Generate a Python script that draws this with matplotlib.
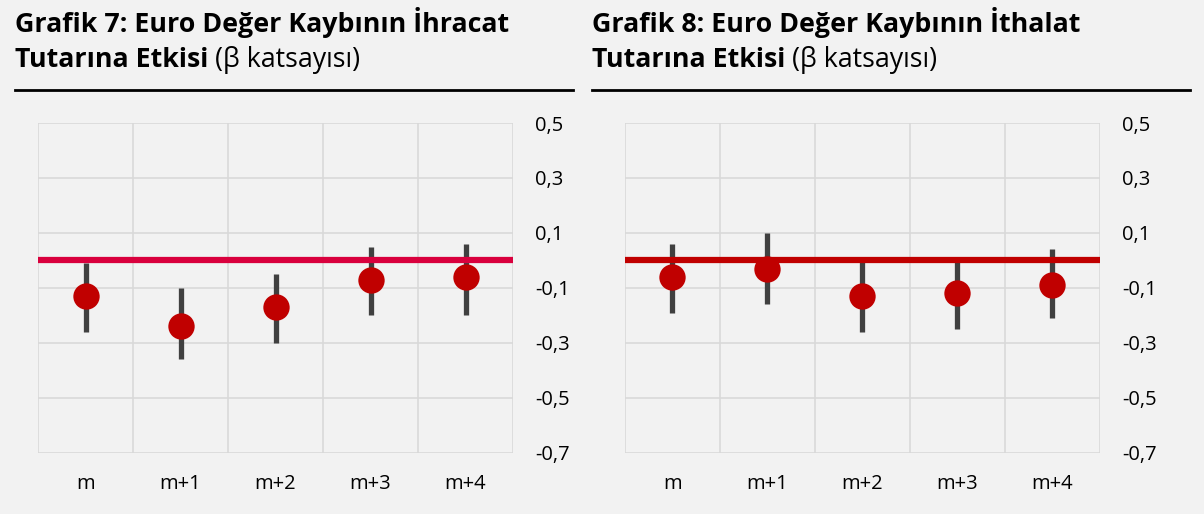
import matplotlib.pyplot as plt
from matplotlib.ticker import FuncFormatter

plt.rcParams['font.family'] = ['Open Sans', 'DejaVu Sans']

# Data
categories = ['m', 'm+1', 'm+2', 'm+3', 'm+4']

exp_beta = [-0.13, -0.24, -0.17, -0.07, -0.06]
exp_low = [-0.26, -0.36, -0.30, -0.20, -0.20]
exp_high = [-0.01, -0.10, -0.05, 0.05, 0.06]

imp_beta = [-0.06, -0.03, -0.13, -0.12, -0.09]
imp_low = [-0.19, -0.16, -0.26, -0.25, -0.21]
imp_high = [0.06, 0.10, 0.00, 0.00, 0.04]

yticks = [0.5, 0.3, 0.1, -0.1, -0.3, -0.5, -0.7]

titles = [('Grafik 7: Euro Değer Kaybının İhracat', 'Tutarına Etkisi'),
          ('Grafik 8: Euro Değer Kaybının İthalat', 'Tutarına Etkisi')]
subtitle = ' (β katsayısı)'

bg = '#f2f2f2'
fig = plt.figure(figsize=(12.04, 5.14), dpi=100, facecolor=bg)


def panel(left, beta, low, high, zero_color, title, tx, line_w):
    ax = fig.add_axes([left, 0.1187, 0.3945, 0.642], facecolor=bg)
    x = list(range(len(categories)))
    # error bars (confidence band)
    ax.vlines(x, low, high, color='#404040', lw=3.8, zorder=3)
    ax.axhline(0, color=zero_color, lw=4.5, zorder=4)
    ax.scatter(x, beta, s=360, color='#c00000', zorder=5, linewidths=0)

    ax.set_xlim(-0.5, len(categories) - 0.5)
    ax.set_ylim(-0.7, 0.5)
    ax.set_yticks(yticks)
    ax.yaxis.set_major_formatter(FuncFormatter(lambda v, p: f'{v:.1f}'.replace('.', ',')))
    ax.yaxis.tick_right()
    ax.set_xticks(x)
    ax.set_xticklabels(categories)
    ax.set_xticks([i - 0.5 for i in range(len(categories) + 1)], minor=True)
    ax.tick_params(axis='both', which='both', length=0, labelsize=14.5, colors='#000000')
    ax.tick_params(axis='y', pad=16)
    ax.tick_params(axis='x', pad=15)
    ax.grid(True, axis='y', which='major', color='#d9d9d9', lw=1.2)
    ax.grid(True, axis='x', which='minor', color='#d9d9d9', lw=1.2)
    ax.grid(False, axis='x', which='major')
    for s in ax.spines.values():
        s.set_visible(False)

    # title block above the panel
    fig.text(tx, 0.9377, title[0], fontsize=19.3, fontweight='bold', va='baseline')
    t2 = fig.text(tx, 0.8696, title[1], fontsize=19.3, fontweight='bold', va='baseline')
    fig.canvas.draw()
    bb = t2.get_window_extent()
    fig.text(bb.x1 / fig.bbox.width, 0.8696, subtitle, fontsize=19.3, va='baseline')
    fig.add_artist(plt.Line2D([tx, tx + line_w], [0.825, 0.825], color='black', lw=2,
                              transform=fig.transFigure))
    return ax


panel(0.0316, exp_beta, exp_low, exp_high, '#d9003d', titles[0], 0.0125, 0.4635)
panel(0.519, imp_beta, imp_low, imp_high, '#c00000', titles[1], 0.4917, 0.4967)

fig.savefig('out.png', dpi=100, facecolor=bg)
